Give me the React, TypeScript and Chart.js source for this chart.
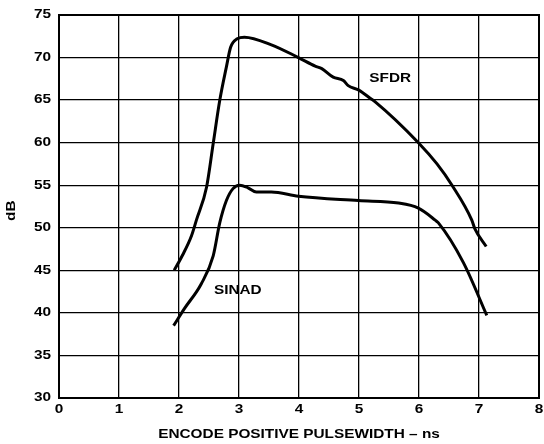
import React, { useEffect, useRef } from "react";
import { Chart, registerables } from "chart.js";

Chart.register(...registerables);

const sfdrX = [1.92, 2.06, 2.21, 2.29, 2.46, 2.57, 2.68, 2.79, 2.86, 2.97, 3.09, 3.54, 3.99, 4.27, 4.38, 4.57, 4.74, 4.82, 4.99, 5.21, 5.27, 5.99, 6.30, 6.55, 6.88, 6.93, 7.12];
const sfdrY = [45.0, 46.8, 49.1, 50.9, 54.8, 59.9, 65.0, 68.9, 71.2, 72.2, 72.4, 71.5, 70.0, 69.0, 68.7, 67.7, 67.3, 66.7, 66.2, 65.1, 64.8, 60.0, 57.5, 55.0, 50.9, 49.9, 47.8];
const sinadX = [1.91, 2.09, 2.37, 2.57, 2.68, 2.79, 2.90, 3.01, 3.15, 3.29, 3.54, 3.99, 4.99, 5.66, 5.99, 6.27, 6.32, 6.74, 7.13];
const sinadY = [38.5, 40.5, 43.4, 46.7, 50.6, 53.2, 54.6, 55.0, 54.7, 54.2, 54.2, 53.7, 53.2, 52.9, 52.3, 50.9, 50.6, 45.9, 39.7];
const seriesLabels = ["SFDR", "SINAD"];
const labelPos = [
  { x: 5.52, y: 67.5 },
  { x: 2.98, y: 42.6 },
];
const xTitle = "ENCODE POSITIVE PULSEWIDTH – ns";
const yTitle = "dB";

const FONT = "bold 12px 'Liberation Sans', Arial, sans-serif";
const SX = 1.28;

function wideText(ctx: any, text: string, x: number, y: number, align: string, rot = 0) {
  ctx.save();
  ctx.translate(x, y);
  if (rot) ctx.rotate(rot);
  ctx.scale(SX, 1);
  ctx.textAlign = align;
  ctx.textBaseline = "middle";
  ctx.fillText(text, 0, 0);
  ctx.restore();
}

const textPlugin = {
  id: "wideTexts",
  afterDraw(chart: any) {
    const { ctx, scales, chartArea: a } = chart;
    const xs = scales.x;
    const ys = scales.y;
    ctx.save();
    ctx.fillStyle = "#000";
    ctx.font = FONT;
    // frame
    ctx.strokeStyle = "#000";
    ctx.lineWidth = 2;
    ctx.strokeRect(a.left, a.top, a.right - a.left, a.bottom - a.top);
    // tick labels
    xs.ticks.forEach((t: any) => {
      wideText(ctx, String(t.value), xs.getPixelForValue(t.value), a.bottom + 12, "center");
    });
    ys.ticks.forEach((t: any) => {
      wideText(ctx, String(t.value), a.left - 8, ys.getPixelForValue(t.value), "right");
    });
    // axis titles
    wideText(ctx, xTitle, (a.left + a.right) / 2, a.bottom + 37, "center");
    wideText(ctx, yTitle, 12, ys.getPixelForValue(52), "center", -Math.PI / 2);
    // curve labels
    seriesLabels.forEach((t, i) => {
      wideText(ctx, t, xs.getPixelForValue(labelPos[i].x), ys.getPixelForValue(labelPos[i].y), "center");
    });
    ctx.restore();
  },
};

export default function App() {
  const ref = useRef<HTMLCanvasElement>(null);
  useEffect(() => {
    document.body.style.margin = "0";
    const chart = new Chart(ref.current!, {
      type: "line",
      data: {
        datasets: [
          {
            label: seriesLabels[0],
            data: sfdrX.map((x, i) => ({ x, y: sfdrY[i] })),
            borderColor: "#000",
            borderWidth: 3,
            pointRadius: 0,
            tension: 0.3,
            cubicInterpolationMode: "monotone",
          },
          {
            label: seriesLabels[1],
            data: sinadX.map((x, i) => ({ x, y: sinadY[i] })),
            borderColor: "#000",
            borderWidth: 3,
            pointRadius: 0,
            tension: 0.3,
            cubicInterpolationMode: "monotone",
          },
        ],
      },
      options: {
        animation: false,
        responsive: false,
        layout: { padding: { left: 0, right: 5, top: 15, bottom: 0 } },
        plugins: { legend: { display: false }, tooltip: { enabled: false } },
        scales: {
          x: {
            type: "linear",
            min: 0,
            max: 8,
            afterFit: (s: any) => { s.height = 46; },
            ticks: { stepSize: 1, display: false },
            grid: { color: "#000", lineWidth: 1.3, drawTicks: false },
            border: { color: "#000", width: 2 },
          },
          y: {
            min: 30,
            max: 75,
            afterFit: (s: any) => { s.width = 59; },
            ticks: { stepSize: 5, display: false },
            grid: { color: "#000", lineWidth: 1.3, drawTicks: false },
            border: { color: "#000", width: 2 },
          },
        },
      },
      plugins: [textPlugin],
    } as any);
    return () => chart.destroy();
  }, []);
  return (
    <div style={{ width: 544, height: 444, background: "#fff" }}>
      <canvas ref={ref} width={544} height={444} />
    </div>
  );
}
